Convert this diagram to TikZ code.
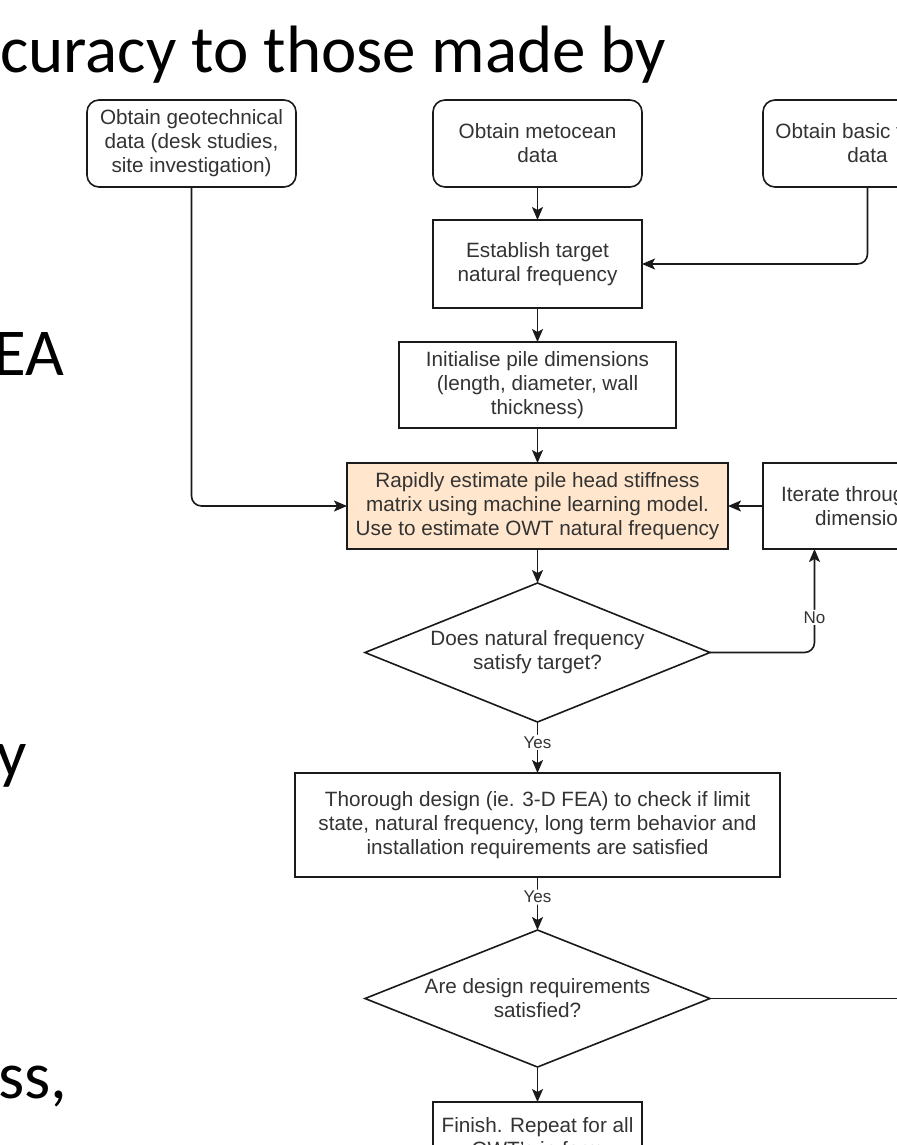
\documentclass[tikz,border=0pt]{standalone}
\usepackage{fontspec}
\setmainfont{Liberation Sans}
\newfontfamily\slidefont{Carlito}
\usepackage{xcolor}
\usetikzlibrary{shapes.geometric, arrows.meta, positioning}
\definecolor{peach}{HTML}{FFE6CC}
\definecolor{ink}{HTML}{333333}
\definecolor{edge}{HTML}{1A1A1A}

\begin{document}
\begin{tikzpicture}[x=1bp, y=-1bp, node distance=34bp, box/.style={rectangle, draw=edge, line width=1.6bp, minimum width=209bp, minimum height=87bp, align=center, outer sep=0pt, text=ink, font=\fontsize{20.7bp}{24bp}\selectfont}, rbox/.style={box, rounded corners=12bp}, dec/.style={diamond, aspect=2.5, draw=edge, line width=1.6bp, minimum width=345bp, minimum height=138bp, inner sep=0pt, outer sep=0pt, align=center, text=ink, font=\fontsize{20.7bp}{24bp}\selectfont}, arrow/.style={-{Stealth[length=13bp, width=11bp, inset=3bp]}, draw=edge, line width=1.6bp, rounded corners=10bp}, line/.style={draw=edge, line width=1.6bp}, lbl/.style={fill=white, inner sep=1.5bp, text=ink, font=\fontsize{17bp}{20bp}\selectfont}, slide/.style={inner sep=0pt, font=\slidefont\fontsize{67bp}{80bp}\selectfont}]
\clip (0,0) rectangle (897,1145);
\fill[white] (0,0) rectangle (897,1145);
% slide text behind the chart
\node[slide, anchor=base west] (head) at (0,72) {curacy to those made by};
\node[slide, anchor=base east] (tEA) at (64,375) {EA};
\node[slide, anchor=base east] (tY) at (27,776) {y};
\node[slide, anchor=base west] (tSS) at (-2,1098) {ss,};
% inputs
\node[rbox] (meto) at (537.5,143.5) {Obtain metocean\\data};
\node[rbox, left=137bp of meto] (geo) {Obtain geotechnical\\data (desk studies,\\site investigation)};
\node[rbox, right=121bp of meto] (basic) {Obtain basic turbine\\data};
% main column
\node[box, below=33bp of meto, minimum height=88bp] (target) {Establish target\\natural frequency};
\node[box, below=34bp of target, minimum width=277bp, minimum height=86bp] (init) {Initialise pile dimensions\\(length, diameter, wall\\thickness)};
\node[box, fill=peach, below=35bp of init, minimum width=381bp, minimum height=86bp] (rapid) {Rapidly estimate pile head stiffness\\matrix using machine learning model.\\Use to estimate OWT natural frequency};
\node[box, right=35bp of rapid, minimum height=86bp] (iter) {Iterate through pile\\dimensions};
\node[dec, below=34bp of rapid, minimum height=139bp] (freq) {Does natural frequency\\satisfy target?};
\node[box, below=51bp of freq, minimum width=485bp, minimum height=104bp] (thor) {Thorough design (ie. 3-D FEA) to check if limit\\state, natural frequency, long term behavior and\\installation requirements are satisfied};
\node[dec, below=53bp of thor, minimum height=137bp] (reqs) {Are design requirements\\satisfied?};
\node[box, below=35bp of reqs, minimum height=71bp] (finish) {Finish. Repeat for all\\OWT's in farm};
\coordinate[right=220bp of reqs.east] (away);
% connectors
\draw[arrow] (meto) -- (target); \draw[arrow] (basic.south) |- (target.east);
\draw[arrow] (target) -- (init); \draw[arrow] (init) -- (rapid);
\draw[arrow] (geo.south) |- (rapid.west); \draw[arrow] (iter) -- (rapid);
\draw[arrow] (rapid) -- (freq);
\draw[arrow] (freq.east) -| node[lbl, pos=0.67] {No} ([xshift=-53bp]iter.south);
\draw[arrow] (freq) -- node[lbl, pos=0.4] {Yes} (thor);
\draw[arrow] (thor) -- node[lbl, pos=0.38] {Yes} (reqs);
\draw[arrow] (reqs) -- (finish); \draw[line] (reqs.east) -- (away);
\end{tikzpicture}
\end{document}
